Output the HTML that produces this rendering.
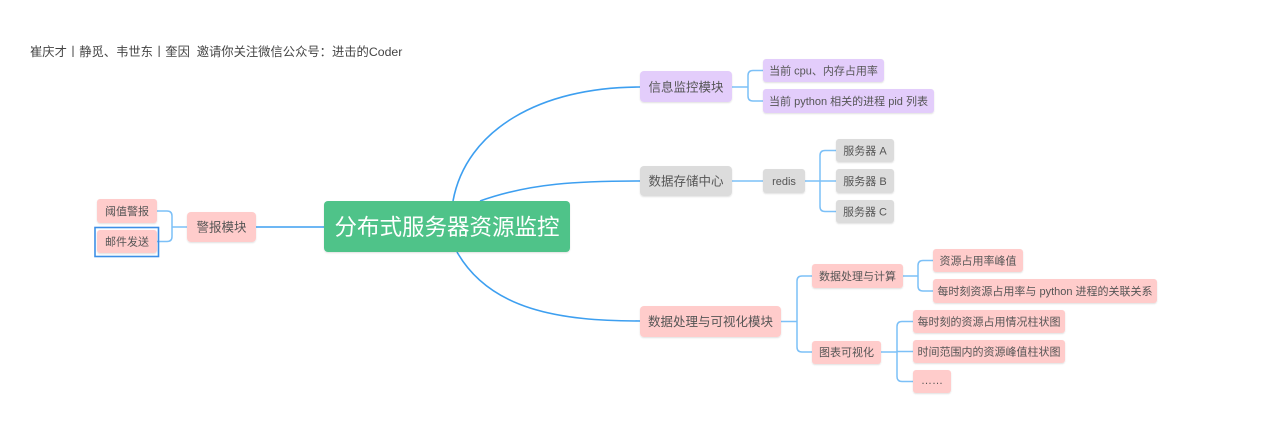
<!DOCTYPE html>
<html><head><meta charset="utf-8">
<style>
html,body{margin:0;padding:0;background:#fff;}
body{width:1280px;height:429px;overflow:hidden;}
svg{display:block;}
text{font-family:"Liberation Sans","Noto Sans CJK SC",sans-serif;}
</style></head>
<body>
<svg width="1280" height="429" viewBox="0 0 1280 429" xmlns="http://www.w3.org/2000/svg">
<defs>
<filter id="sh" x="-10%" y="-20%" width="120%" height="150%">
<feDropShadow dx="0" dy="1" stdDeviation="0.8" flood-color="#000" flood-opacity="0.12"/>
</filter>
</defs>
<text x="30" y="56" font-size="12.3" fill="#444">崔庆才丨静觅、韦世东丨奎因&#160;&#160;邀请你关注微信公众号：进击的Coder</text>

<!-- main curves -->
<g fill="none" stroke="#3d9ff0" stroke-width="1.6">
<path d="M453,201 C466,130 540,87 640,87"/>
<path d="M480,201 C530,183 580,181 640,181"/>
<path d="M457,252 C490,310 560,321 640,321"/>
<path d="M324,227 H256"/>
</g>
<!-- brackets -->
<g fill="none" stroke="#7cc0f7" stroke-width="1.5">
<path d="M732,87 H748 M763,70.5 H753 Q748,70.5 748,75.5 V96 Q748,101 753,101 H763"/>
<path d="M732,181 H763 M805,181 H820 M836,150.5 H825 Q820,150.5 820,155.5 V206.5 Q820,211.5 825,211.5 H836 M820,181 H836"/>
<path d="M781,321.5 H797 M812,276 H802 Q797,276 797,281 V347 Q797,352 802,352 H812"/>
<path d="M903,276 H918 M933,260.5 H923 Q918,260.5 918,265.5 V286 Q918,291 923,291 H933"/>
<path d="M881,352 H897 M913,321.5 H902 Q897,321.5 897,326.5 V376.5 Q897,381.5 902,381.5 H913 M897,351.5 H913"/>
<path d="M187,227 H172 M157,211 H167 Q172,211 172,216 V236.5 Q172,241.5 167,241.5 H157"/>
</g>

<!-- root -->
<rect x="324" y="201" width="246" height="51" rx="4" fill="#4fc389" filter="url(#sh)"/>
<text x="447" y="235" font-size="22.5" fill="#fff" text-anchor="middle">分布式服务器资源监控</text>

<g filter="url(#sh)">
<!-- info -->
<rect x="640" y="71" width="92" height="31" rx="4" fill="#e3cdfb"/>
<rect x="763" y="59" width="121" height="23" rx="3" fill="#e3cdfb"/>
<rect x="763" y="89" width="171" height="24" rx="3" fill="#e3cdfb"/>
<!-- storage -->
<rect x="640" y="166" width="92" height="30" rx="4" fill="#dcdcdc"/>
<rect x="763" y="169" width="42" height="24" rx="3" fill="#dcdcdc"/>
<rect x="836" y="139" width="58" height="23" rx="3" fill="#dcdcdc"/>
<rect x="836" y="169" width="58" height="24" rx="3" fill="#dcdcdc"/>
<rect x="836" y="200" width="58" height="23" rx="3" fill="#dcdcdc"/>
<!-- processing -->
<rect x="640" y="306" width="141" height="31" rx="4" fill="#ffcccb"/>
<rect x="812" y="264" width="91" height="24" rx="3" fill="#ffcccb"/>
<rect x="812" y="341" width="69" height="23" rx="3" fill="#ffcccb"/>
<rect x="933" y="249" width="90" height="23" rx="3" fill="#ffcccb"/>
<rect x="933" y="279" width="224" height="24" rx="3" fill="#ffcccb"/>
<rect x="913" y="310" width="152" height="23" rx="3" fill="#ffcccb"/>
<rect x="913" y="340" width="152" height="23" rx="3" fill="#ffcccb"/>
<rect x="913" y="370" width="38" height="23" rx="3" fill="#ffcccb"/>
<!-- warning -->
<rect x="187" y="212" width="69" height="30" rx="4" fill="#ffcccb"/>
<rect x="97" y="199" width="60" height="24" rx="3" fill="#ffcccb"/>
<rect x="97" y="230" width="60" height="23" rx="3" fill="#ffcccb"/>
</g>
<rect x="95" y="227.5" width="63.5" height="29" fill="none" stroke="#3d8fe6" stroke-width="1.6"/>

<g fill="#555" font-size="12.5" text-anchor="middle">
<text x="686" y="91.5">信息监控模块</text>
<text x="686" y="185.5">数据存储中心</text>
<text x="710.5" y="326">数据处理与可视化模块</text>
<text x="221.5" y="231.5">警报模块</text>
</g>
<g fill="#555" font-size="11" text-anchor="middle">
<text x="823.5" y="74.5">当前 cpu、内存占用率</text>
<text x="848.5" y="105">当前 python 相关的进程 pid 列表</text>
<text x="784" y="185">redis</text>
<text x="865" y="154.5">服务器 A</text>
<text x="865" y="185">服务器 B</text>
<text x="865" y="215.5">服务器 C</text>
<text x="857.5" y="280">数据处理与计算</text>
<text x="846.5" y="356">图表可视化</text>
<text x="978" y="264.5">资源占用率峰值</text>
<text x="1045" y="295">每时刻资源占用率与 python 进程的关联关系</text>
<text x="989" y="325.5">每时刻的资源占用情况柱状图</text>
<text x="989" y="355.5">时间范围内的资源峰值柱状图</text>
<text x="932" y="384">……</text>
<text x="127" y="215">阈值警报</text>
<text x="127" y="245.5">邮件发送</text>
</g>
</svg>
</body></html>
